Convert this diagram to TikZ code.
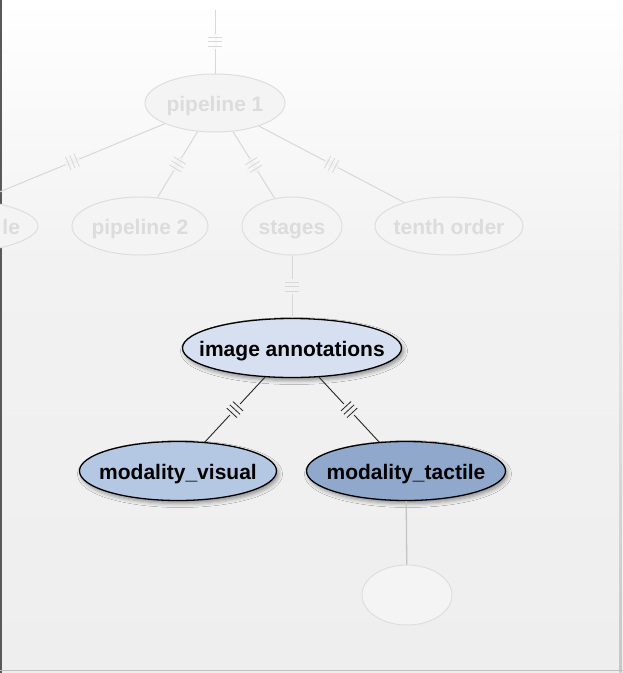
\documentclass[tikz,border=0pt]{standalone}
\usepackage{fontspec}
\setmainfont{Liberation Sans}
\usetikzlibrary{shapes.geometric,decorations.markings,shadows.blur}
\definecolor{bgc}{HTML}{EEEEEE}
\definecolor{bgmid}{HTML}{F2F2F2}
\definecolor{bgtop}{HTML}{FAFAFA}
\definecolor{fadefill}{HTML}{F4F4F4}
\definecolor{fadedraw}{HTML}{DEDEDE}
\definecolor{fadetext}{HTML}{DCDCDC}
\definecolor{fadeline}{HTML}{D8D8D8}
\definecolor{iafill}{HTML}{D6E0F1}
\definecolor{mvfill}{HTML}{B4C8E4}
\definecolor{mtfill}{HTML}{8FA8CC}
\definecolor{greyline}{HTML}{C4C4C4}
\newcommand{\zw}[1]{\makebox[0pt]{\smash{\raisebox{-8.5pt}{#1}}}}
\newcommand{\tripleticks}[2]{%
  \fill[#1] (-7.5pt,-2.5pt) rectangle (7.5pt,2.5pt);
  \draw[#2, line width=0.8pt] (-4.5pt,-7pt)--(-4.5pt,7pt) (0pt,-7pt)--(0pt,7pt) (4.5pt,-7pt)--(4.5pt,7pt);}
\tikzset{
  nodefont/.style={font=\fontsize{21}{24}\selectfont\bfseries},
  fadenode/.style={ellipse, inner sep=0pt, nodefont, fill=fadefill, draw=fadedraw, line width=1pt, text=fadetext},
  mainnode/.style={ellipse, inner sep=0pt, nodefont, draw=black, line width=1.3pt, text=black,
    blur shadow={shadow xshift=2pt, shadow yshift=-3pt, shadow blur radius=4pt, shadow opacity=40}},
  fadeedge/.style={draw=fadeline, line width=1pt},
  darkedge/.style={draw=black!85, line width=0.9pt},
  fadetick/.style 2 args={postaction={decorate,decoration={markings,mark=at position #1 with {\tripleticks{#2}{fadeline}}}}},
  darktick/.style={postaction={decorate,decoration={markings,mark=at position #1 with {\tripleticks{bgc}{black!85}}}}},
  darktick/.default=0.5,
}
\begin{document}
\begin{tikzpicture}[x=1pt,y=-1pt]
\useasboundingbox (0,0) rectangle (623,673);
% background
\shade[top color=white, bottom color=bgmid] (0,0) rectangle (623,260);
\shade[top color=bgmid, bottom color=bgc] (0,260) rectangle (623,673);
\draw[black!65, line width=2pt] (1,0) -- (1,673);
\shade[top color=white, bottom color=black!22] (619.5,0) rectangle (621.5,673);
\draw[black!25, line width=1.5pt] (0,670.5) -- (623,670.5);

% faded nodes
\coordinate (topend) at (215,10);
\node[fadenode, minimum width=140pt, minimum height=58pt] (p1) at (215,103) {\zw{pipeline 1}};
\node[fadenode, minimum width=242pt, minimum height=60pt] (le) at (-83,226) {\makebox[0pt][l]{\hspace{85.5pt}\smash{\raisebox{-8.5pt}{le}}}};
\node[fadenode, minimum width=136pt, minimum height=58pt] (p2) at (140,226) {\zw{pipeline 2}};
\node[fadenode, minimum width=100pt, minimum height=58pt] (st) at (292,226) {\zw{stages}};
\node[fadenode, minimum width=148pt, minimum height=58pt] (to) at (449,226) {\zw{tenth order}};
\node[fadenode, minimum width=90pt, minimum height=60pt] (em) at (407,595) {};

% main nodes
\node[mainnode, fill=iafill, minimum width=219pt, minimum height=59pt] (ia) at (292,348) {\zw{image annotations}};
\node[mainnode, fill=mvfill, minimum width=197pt, minimum height=59pt] (mv) at (178,471) {\zw{modality\_visual}};
\node[mainnode, fill=mtfill, minimum width=199pt, minimum height=59pt] (mt) at (406,471) {\zw{modality\_tactile}};

% faded edges
\draw[fadeedge, fadetick={0.5}{bgtop}] (topend) -- (p1);
\draw[fadeedge, fadetick={0.5}{bgmid}] (p1) -- (le);
\draw[fadeedge, fadetick={0.5}{bgmid}] (p1) -- (p2);
\draw[fadeedge, fadetick={0.5}{bgmid}] (p1) -- (st);
\draw[fadeedge, fadetick={0.5}{bgmid}] (p1) -- (to);
\draw[fadeedge, fadetick={0.5}{bgmid}] (st) -- (ia);

% main edges
\draw[darkedge, darktick] (ia) -- (mv);
\draw[darkedge, darktick] (ia) -- (mt);
\draw[draw=greyline, line width=1.3pt] (mt) -- (em);
\end{tikzpicture}
\end{document}
